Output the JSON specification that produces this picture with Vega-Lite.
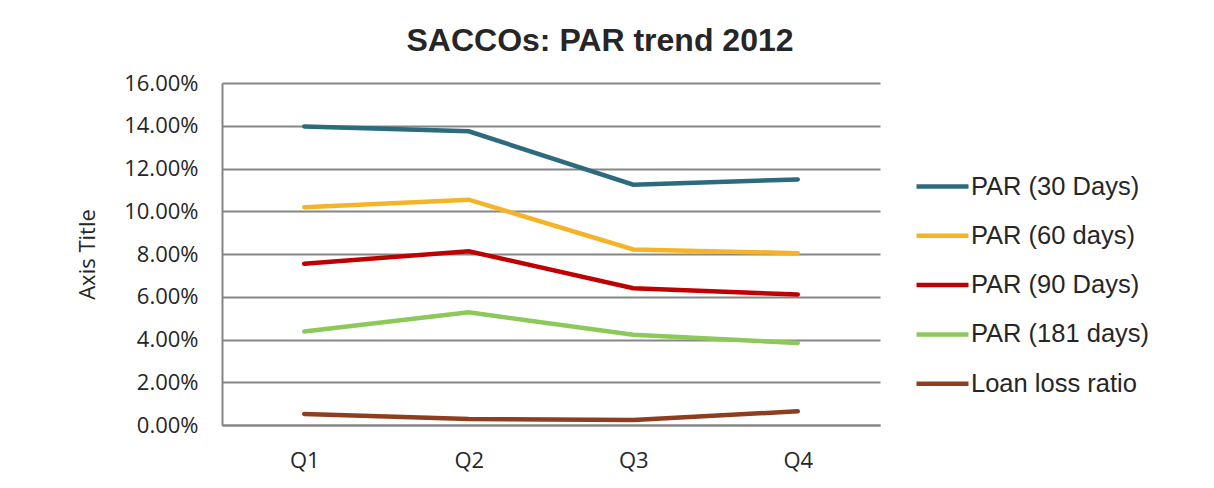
{
  "$schema": "https://vega.github.io/schema/vega-lite/v6.json",
  "width": 658,
  "height": 342,
  "autosize": {"type": "none"},
  "padding": {"left": 222, "top": 83, "right": 334, "bottom": 63},
  "background": "white",
  "title": {
    "text": "SACCOs: PAR trend 2012",
    "font": "Liberation Sans",
    "fontSize": 32,
    "fontWeight": "bold",
    "color": "#262626",
    "anchor": "middle",
    "frame": "group",
    "dx": 49,
    "offset": 14
  },
  "data": {
    "values": [
      {"quarter": "Q1", "series": "PAR (30 Days)", "value": 0.1397},
      {"quarter": "Q2", "series": "PAR (30 Days)", "value": 0.1374},
      {"quarter": "Q3", "series": "PAR (30 Days)", "value": 0.1124},
      {"quarter": "Q4", "series": "PAR (30 Days)", "value": 0.1149},
      {"quarter": "Q1", "series": "PAR (60 days)", "value": 0.1019},
      {"quarter": "Q2", "series": "PAR (60 days)", "value": 0.1054},
      {"quarter": "Q3", "series": "PAR (60 days)", "value": 0.0821},
      {"quarter": "Q4", "series": "PAR (60 days)", "value": 0.0804},
      {"quarter": "Q1", "series": "PAR (90 Days)", "value": 0.0754},
      {"quarter": "Q2", "series": "PAR (90 Days)", "value": 0.0813},
      {"quarter": "Q3", "series": "PAR (90 Days)", "value": 0.0640},
      {"quarter": "Q4", "series": "PAR (90 Days)", "value": 0.0610},
      {"quarter": "Q1", "series": "PAR (181 days)", "value": 0.0437},
      {"quarter": "Q2", "series": "PAR (181 days)", "value": 0.0527},
      {"quarter": "Q3", "series": "PAR (181 days)", "value": 0.0422},
      {"quarter": "Q4", "series": "PAR (181 days)", "value": 0.0384},
      {"quarter": "Q1", "series": "Loan loss ratio", "value": 0.0052},
      {"quarter": "Q2", "series": "Loan loss ratio", "value": 0.0028},
      {"quarter": "Q3", "series": "Loan loss ratio", "value": 0.0023},
      {"quarter": "Q4", "series": "Loan loss ratio", "value": 0.0064}
    ]
  },
  "mark": {"type": "line", "strokeWidth": 4.5, "strokeCap": "round", "strokeJoin": "miter"},
  "encoding": {
    "x": {
      "field": "quarter",
      "type": "ordinal",
      "scale": {"type": "point", "padding": 0.5},
      "axis": {
        "title": null,
        "labelAngle": 0,
        "labelFont": "Open Sans",
        "labelFontSize": 22,
        "labelColor": "#262626",
        "labelPadding": 25,
        "ticks": false,
        "domain": true,
        "domainColor": "#868686",
        "domainWidth": 2,
        "grid": false
      }
    },
    "y": {
      "field": "value",
      "type": "quantitative",
      "scale": {"domain": [0, 0.16], "nice": false},
      "axis": {
        "title": "Axis Title",
        "titleFont": "Open Sans",
        "titleFontSize": 22,
        "titleFontWeight": "normal",
        "titleColor": "#262626",
        "titlePadding": 24,
        "format": ".2%",
        "values": [0, 0.02, 0.04, 0.06, 0.08, 0.1, 0.12, 0.14, 0.16],
        "labelFont": "Open Sans",
        "labelFontSize": 22,
        "labelColor": "#262626",
        "labelPadding": 24,
        "ticks": false,
        "domain": true,
        "domainColor": "#868686",
        "domainWidth": 2,
        "grid": true,
        "gridColor": "#868686",
        "gridWidth": 2
      }
    },
    "color": {
      "field": "series",
      "type": "nominal",
      "sort": ["PAR (30 Days)", "PAR (60 days)", "PAR (90 Days)", "PAR (181 days)", "Loan loss ratio"],
      "scale": {
        "domain": ["PAR (30 Days)", "PAR (60 days)", "PAR (90 Days)", "PAR (181 days)", "Loan loss ratio"],
        "range": ["#2B6B7D", "#F5B327", "#C00000", "#8DC85A", "#8E3E20"]
      },
      "legend": {
        "title": null,
        "orient": "none",
        "legendX": 692,
        "legendY": 75,
        "symbolType": "stroke",
        "symbolSize": 2700,
        "symbolStrokeWidth": 4.5,
        "labelFont": "Liberation Sans",
        "labelFontSize": 25.5,
        "labelColor": "#262626",
        "labelOffset": 0,
        "rowPadding": 7.3,
        "labelLimit": 300
      }
    }
  },
  "config": {
    "view": {"stroke": null}
  }
}
